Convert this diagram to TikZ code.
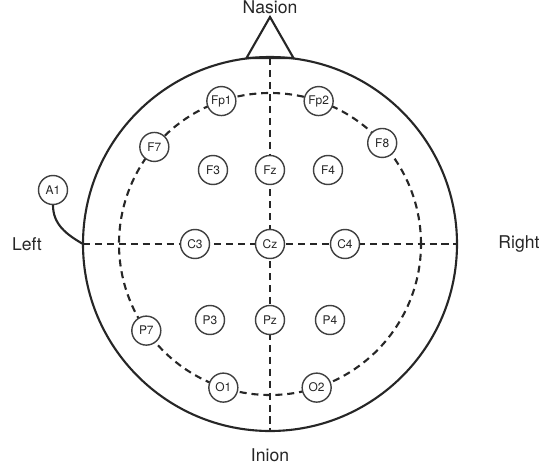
\documentclass[tikz,border=0pt]{standalone}
\usepackage{fontspec}
\setmainfont{TeX Gyre Heros}

\begin{document}
\begin{tikzpicture}[
    electrode/.style={circle, draw=black!75, line width=0.8pt, fill=white, minimum size=0.58cm, inner sep=0pt, text=black!85, font=\fontsize{6.8}{8}\selectfont},
    midline/.style={black!85, line width=1.2pt, dash pattern=on 4pt off 2.8pt},
    headline/.style={black!85, line width=1.2pt},
    landmark/.style={text=black!85, font=\fontsize{10}{12}\selectfont}
]
    \useasboundingbox (-5.4, -4.58) rectangle (5.6, 4.88);

    % Head outline and nose
    \draw[headline] (0, 0) circle (3.74);
    \draw[headline] (-0.47, 3.72) -- (0, 4.54) -- (0.47, 3.72) -- cycle;

    % Reference points
    \coordinate (nasion) at (0, 3.72);
    \coordinate (inion) at (270:3.74);
    \coordinate (leftear) at (180:3.74);
    \coordinate (rightear) at (0:3.74);

    % Midlines and outer ring
    \draw[midline] (nasion) -- (inion);
    \draw[midline] (leftear) -- (rightear);
    \draw[midline] (0, 0) circle (3.02);

    % Electrodes on the ring
    \node[electrode] (Fp1) at (108.8:3.02) {Fp1};
    \node[electrode] (Fp2) at (71.2:3.02) {Fp2};
    \node[electrode] (F7) at (140:3.02) {F7};
    \node[electrode] (F8) at (42:3.02) {F8};
    \node[electrode] (P7) at (215:3.02) {P7};
    \node[electrode] (O1) at (252:3.02) {O1};
    \node[electrode] (O2) at (288:3.02) {O2};

    % Inner electrodes
    \node[electrode] (F3) at (-1.14, 1.48) {F3};
    \node[electrode] (Fz) at (0, 1.48) {Fz};
    \node[electrode] (F4) at (1.16, 1.48) {F4};
    \node[electrode] (C3) at (-1.5, 0) {C3};
    \node[electrode] (Cz) at (0, 0) {Cz};
    \node[electrode] (C4) at (1.5, 0) {C4};
    \node[electrode] (P3) at (-1.2, -1.52) {P3};
    \node[electrode] (Pz) at (0, -1.52) {Pz};
    \node[electrode] (P4) at (1.2, -1.52) {P4};

    % Ear electrode and its lead
    \node[electrode] (A1) at (-4.34, 1.08) {A1};
    \draw[headline] (A1) to[out=-90, in=150] (leftear);

    % Landmarks
    \node[landmark] (nasiontext) at (0, 4.74) {Nasion};
    \node[landmark] (lefttext) at (-4.86, 0) {Left};
    \node[landmark] (righttext) at (4.98, 0) {Right};
    \node[landmark] (iniontext) at (0, -4.23) {Inion};
\end{tikzpicture}
\end{document}
